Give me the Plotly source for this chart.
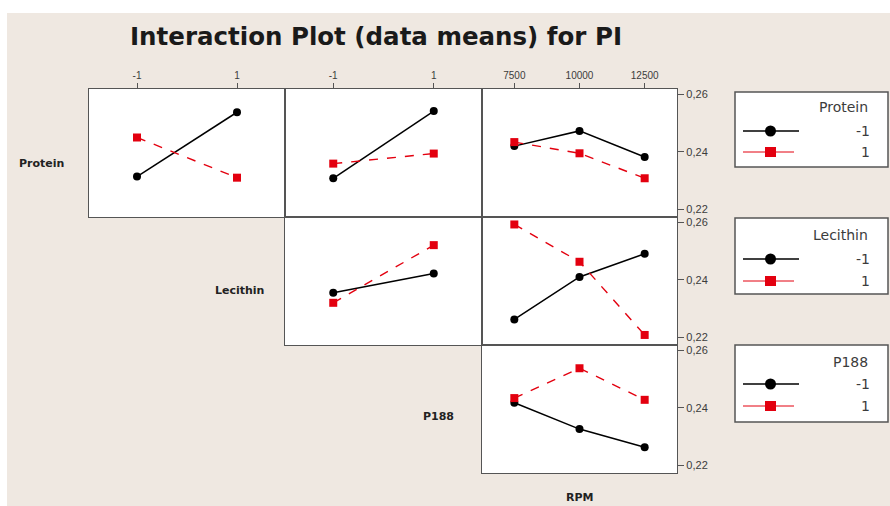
import plotly.graph_objects as go

W, H = 890, 506

# Factor levels
two_levels = [-1, 1]
rpm_levels = [7500, 10000, 12500]
x_tick_text_two = ["-1", "1"]
x_tick_text_rpm = ["7500", "10000", "12500"]
y_ticks = [0.22, 0.24, 0.26]
y_tick_text = ["0,22", "0,24", "0,26"]

# Mean PI for each trace factor level (-1 / 1) across the x factor levels
# Row: Protein
protein_by_lecithin_m1 = [0.2314, 0.2538]
protein_by_lecithin_p1 = [0.2450, 0.2310]
protein_by_p188_m1 = [0.2308, 0.2542]
protein_by_p188_p1 = [0.2359, 0.2394]
protein_by_rpm_m1 = [0.2420, 0.2473, 0.2382]
protein_by_rpm_p1 = [0.2434, 0.2395, 0.2308]
# Row: Lecithin
lecithin_by_p188_m1 = [0.2355, 0.2422]
lecithin_by_p188_p1 = [0.2320, 0.2521]
lecithin_by_rpm_m1 = [0.2262, 0.2410, 0.2491]
lecithin_by_rpm_p1 = [0.2593, 0.2463, 0.2208]
# Row: P188
p188_by_rpm_m1 = [0.2418, 0.2326, 0.2263]
p188_by_rpm_p1 = [0.2434, 0.2538, 0.2428]

factor_names = ["Protein", "Lecithin", "P188", "RPM"]
level_labels = ["-1", "1"]

BG = "#EFE8E1"
BORDER = "#555555"
BLACK = "#000000"
RED = "#E3000F"
TXT = "#3C3C3C"


def px_x(p):
    return p / W


def px_y(p):
    return 1 - p / H


# Panel pixel edges
col_edges = [(89, 285), (285, 482), (482, 677)]
row_edges = [(89, 217), (217, 345), (345, 473)]

# (row, col, x values, black series, red series)
panels = [
    (0, 0, two_levels, protein_by_lecithin_m1, protein_by_lecithin_p1),
    (0, 1, two_levels, protein_by_p188_m1, protein_by_p188_p1),
    (0, 2, rpm_levels, protein_by_rpm_m1, protein_by_rpm_p1),
    (1, 1, two_levels, lecithin_by_p188_m1, lecithin_by_p188_p1),
    (1, 2, rpm_levels, lecithin_by_rpm_m1, lecithin_by_rpm_p1),
    (2, 2, rpm_levels, p188_by_rpm_m1, p188_by_rpm_p1),
]

fig = go.Figure()
layout = {}
for i, (r, c, xs, blk, red) in enumerate(panels, start=1):
    xa = "x" if i == 1 else f"x{i}"
    ya = "y" if i == 1 else f"y{i}"
    fig.add_trace(go.Scatter(
        x=xs, y=blk, xaxis=xa, yaxis=ya, mode="lines+markers",
        line=dict(color=BLACK, width=1.5),
        marker=dict(symbol="circle", size=8, color=BLACK),
        showlegend=False, hoverinfo="x+y"))
    fig.add_trace(go.Scatter(
        x=xs, y=red, xaxis=xa, yaxis=ya, mode="lines+markers",
        line=dict(color=RED, width=1.4, dash="dash"),
        marker=dict(symbol="square", size=8, color=RED),
        showlegend=False, hoverinfo="x+y"))

    is_rpm = xs is rpm_levels
    x0, x1 = col_edges[c]
    y0, y1 = row_edges[r]
    xrange = [6260, 13740] if is_rpm else [-1.96, 1.96]
    xkey = "xaxis" if i == 1 else f"xaxis{i}"
    ykey = "yaxis" if i == 1 else f"yaxis{i}"
    top_row = r == 0
    layout[xkey] = dict(
        domain=[px_x(x0), px_x(x1)], anchor=ya, range=xrange,
        side="top",
        tickvals=xs if top_row else [],
        ticktext=(x_tick_text_rpm if is_rpm else x_tick_text_two) if top_row else [],
        ticks="outside" if top_row else "", ticklen=5, tickcolor=BORDER,
        showticklabels=top_row,
        tickfont=dict(family="Liberation Sans", size=10, color=TXT),
        showgrid=False, zeroline=False,
        showline=True, mirror=True, linecolor=BORDER, linewidth=1.3,
        fixedrange=True,
    )
    right_col = c == 2
    layout[ykey] = dict(
        domain=[px_y(y1), px_y(y0)], anchor=xa, range=[0.2173, 0.2619],
        side="right",
        tickvals=y_ticks if right_col else [],
        ticktext=y_tick_text if right_col else [],
        ticks="outside" if right_col else "", ticklen=6, tickcolor=BORDER,
        showticklabels=right_col,
        tickfont=dict(family="Liberation Sans", size=11, color=TXT),
        showgrid=False, zeroline=False,
        showline=True, mirror=True, linecolor=BORDER, linewidth=1.3,
        fixedrange=True,
    )

shapes = [
    # white page strips around the beige chart area
    dict(type="rect", xref="paper", yref="paper", x0=0, x1=1,
         y0=px_y(13), y1=1, fillcolor="white", line=dict(width=0), layer="below"),
    dict(type="rect", xref="paper", yref="paper", x0=0, x1=px_x(7),
         y0=0, y1=1, fillcolor="white", line=dict(width=0), layer="below"),
]
annotations = [
    dict(text="<b>Interaction Plot (data means) for PI</b>", x=px_x(376), y=px_y(36),
         xref="paper", yref="paper", xanchor="center", yanchor="middle",
         showarrow=False, font=dict(family="DejaVu Sans", size=24.5, color="#1a1a1a")),
]

# Factor names along the diagonal
diag_pos = [(41, 163), (239, 290), (438, 416), (579, 497)]
for name, (dx, dy) in zip(factor_names, diag_pos):
    annotations.append(dict(
        text=f"<b>{name}</b>", x=px_x(dx), y=px_y(dy), xref="paper", yref="paper",
        xanchor="center", yanchor="middle", showarrow=False,
        font=dict(family="DejaVu Sans", size=11, color="#222222")))

# Legend boxes for each trace factor
legend_boxes = [(92, 167, 107, 131, 152), (218, 294, 235, 259, 281), (345, 422, 362, 384, 406)]
for name, (bt, bb, ty, y_m1, y_p1) in zip(factor_names[:3], legend_boxes):
    shapes.append(dict(type="rect", xref="paper", yref="paper",
                       x0=px_x(735), x1=px_x(888), y0=px_y(bb), y1=px_y(bt),
                       fillcolor="white", line=dict(color=BORDER, width=1.5)))
    shapes.append(dict(type="line", xref="paper", yref="paper",
                       x0=px_x(743), x1=px_x(799), y0=px_y(y_m1), y1=px_y(y_m1),
                       line=dict(color=BLACK, width=1.3)))
    shapes.append(dict(type="circle", xref="paper", yref="paper",
                       x0=px_x(765), x1=px_x(776), y0=px_y(y_m1 + 5.5), y1=px_y(y_m1 - 5.5),
                       fillcolor=BLACK, line=dict(color=BLACK, width=0)))
    shapes.append(dict(type="line", xref="paper", yref="paper",
                       x0=px_x(743), x1=px_x(794), y0=px_y(y_p1), y1=px_y(y_p1),
                       line=dict(color=RED, width=1)))
    shapes.append(dict(type="rect", xref="paper", yref="paper",
                       x0=px_x(765), x1=px_x(776), y0=px_y(y_p1 + 5), y1=px_y(y_p1 - 5),
                       fillcolor=RED, line=dict(color=RED, width=0)))
    annotations.append(dict(text=name, x=px_x(870), y=px_y(ty), xref="paper", yref="paper",
                            xanchor="right", yanchor="middle", showarrow=False,
                            font=dict(family="DejaVu Sans", size=14, color=TXT)))
    for lab, ly in zip(level_labels, (y_m1, y_p1)):
        annotations.append(dict(text=lab, x=px_x(872), y=px_y(ly), xref="paper", yref="paper",
                                xanchor="right", yanchor="middle", showarrow=False,
                                font=dict(family="DejaVu Sans", size=14, color=TXT)))

fig.update_layout(
    width=W, height=H,
    margin=dict(l=0, r=0, t=0, b=0),
    paper_bgcolor=BG, plot_bgcolor="white",
    showlegend=False,
    shapes=shapes, annotations=annotations,
    **layout,
)

fig.write_html("out.html", config={"displayModeBar": False})
